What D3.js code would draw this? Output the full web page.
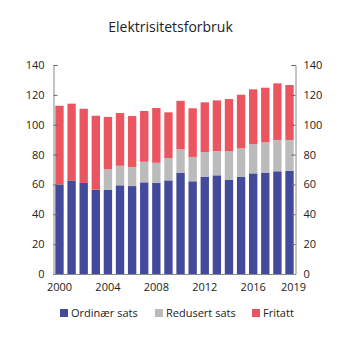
<!DOCTYPE html>
<html><head><meta charset="utf-8">
<script src="https://cdn.jsdelivr.net/npm/d3@7"></script>
<style>body{margin:0;background:#fff}svg{display:block}</style>
</head><body>
<script>
const years = [2000,2001,2002,2003,2004,2005,2006,2007,2008,2009,2010,2011,2012,2013,2014,2015,2016,2017,2018,2019];
const ordinaer = [60,62.7,61,56.5,56.3,59.4,58.9,61.4,61,62.7,67.9,62.1,65.2,66.1,63,65,67.4,67.9,68.8,69.2];
const redusert = [0,0,0,0,13.8,13.1,12.8,13.8,13.5,15,15.6,16.3,16.5,16.3,19.2,19.2,19.7,20.3,21,20.6];
const fritatt = [52.7,51.4,49.7,49.5,35.1,35.3,34.1,34,36.7,30.6,32.5,32.6,33.3,33.9,35,35.9,36.6,36.6,37.9,36.8];
const seriesNames = ["Ordinær sats","Redusert sats","Fritatt"];
const colors = ["#434a9b","#bbbbbb","#eb5560"];
const yTicks = [0,20,40,60,80,100,120,140];
const xTickYears = [2000,2004,2008,2012,2016,2019];
const title = "Elektrisitetsforbruk";

(function(){
const W=341,H=341;
const svg=d3.select("body").append("svg").attr("width",W).attr("height",H);
const font="'Open Sans', sans-serif";
const mL=53.5,mR=295.5,mT=65,mB=274;
const x=d3.scaleBand().domain(years).range([mL,mR]).paddingInner(0.31).paddingOuter(0.15);
const y=d3.scaleLinear().domain([0,140]).range([mB,mT]);

const data=years.map((yr,i)=>({year:yr,o:ordinaer[i],r:redusert[i],f:fritatt[i]}));
const stack=d3.stack().keys(["o","r","f"])(data);
svg.append("g").selectAll("g").data(stack).join("g").attr("fill",(d,i)=>colors[i])
  .selectAll("rect").data(d=>d).join("rect")
  .attr("x",d=>x(d.data.year)).attr("width",x.bandwidth())
  .attr("y",d=>y(d[1])).attr("height",d=>y(d[0])-y(d[1]));

svg.append("text").attr("x",170.5).attr("y",32).attr("text-anchor","middle")
  .attr("font-family",font).attr("font-size",14).attr("fill","#222").text(title);

const gl=svg.append("g").attr("transform",`translate(${mL},0)`)
  .call(d3.axisLeft(y).tickValues(yTicks).tickSize(-4).tickPadding(11));
const gr=svg.append("g").attr("transform",`translate(${mR},0)`)
  .call(d3.axisRight(y).tickValues(yTicks).tickSize(-4).tickPadding(11));
[gl,gr].forEach(g=>{
  g.select(".domain").attr("stroke","#888");
  g.selectAll(".tick line").attr("stroke","#666");
  g.selectAll("text").attr("font-family",font).attr("font-size",11).attr("fill","#222");
});
gr.selectAll("text").attr("x",8);
gl.selectAll("text").attr("x",-9);

const gx=svg.append("g").attr("transform",`translate(0,${mB})`)
  .call(d3.axisBottom(x).tickValues(xTickYears).tickSize(0).tickPadding(9));
gx.select(".domain").attr("stroke","#888").attr("d",`M${mL},0.5H${mR}`);
gx.selectAll("text").attr("font-family",font).attr("font-size",11).attr("fill","#222");
gx.selectAll(".tick").filter(d=>d===2019).select("text").attr("dx",4);

const legX=[60,155,252];
const lg=svg.append("g");
seriesNames.forEach((n,i)=>{
  lg.append("rect").attr("x",legX[i]).attr("y",309).attr("width",8).attr("height",8).attr("fill",colors[i]);
  lg.append("text").attr("x",legX[i]+11).attr("y",317).attr("font-family",font).attr("font-size",11).attr("fill","#222").text(n);
});
})();
</script>
</body></html>
